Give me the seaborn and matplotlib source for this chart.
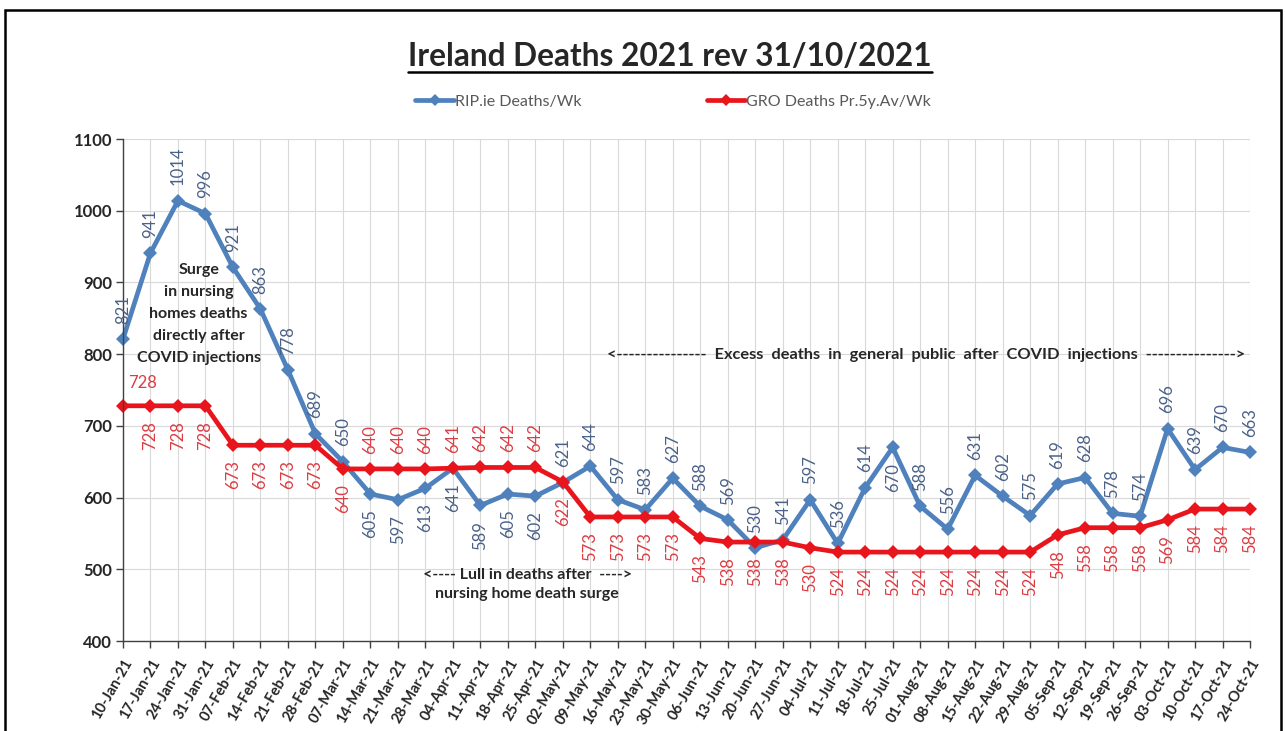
import matplotlib
matplotlib.use("Agg")
import matplotlib.pyplot as plt
from matplotlib.lines import Line2D
from matplotlib.patches import Rectangle
import pandas as pd
import seaborn as sns

WEEKS = ["10-Jan-21", "17-Jan-21", "24-Jan-21", "31-Jan-21", "07-Feb-21", "14-Feb-21",
         "21-Feb-21", "28-Feb-21", "07-Mar-21", "14-Mar-21", "21-Mar-21", "28-Mar-21",
         "04-Apr-21", "11-Apr-21", "18-Apr-21", "25-Apr-21", "02-May-21", "09-May-21",
         "16-May-21", "23-May-21", "30-May-21", "06-Jun-21", "13-Jun-21", "20-Jun-21",
         "27-Jun-21", "04-Jul-21", "11-Jul-21", "18-Jul-21", "25-Jul-21", "01-Aug-21",
         "08-Aug-21", "15-Aug-21", "22-Aug-21", "29-Aug-21", "05-Sep-21", "12-Sep-21",
         "19-Sep-21", "26-Sep-21", "03-Oct-21", "10-Oct-21", "17-Oct-21", "24-Oct-21"]

RIP_DEATHS = [821, 941, 1014, 996, 921, 863, 778, 689, 650, 605, 597, 613, 641, 589,
              605, 602, 621, 644, 597, 583, 627, 588, 569, 530, 541, 597, 536, 614,
              670, 588, 556, 631, 602, 575, 619, 628, 578, 574, 696, 639, 670, 663]

GRO_AVG = [728, 728, 728, 728, 673, 673, 673, 673, 640, 640, 640, 640, 641, 642,
           642, 642, 622, 573, 573, 573, 573, 543, 538, 538, 538, 530, 524, 524,
           524, 524, 524, 524, 524, 524, 548, 558, 558, 558, 569, 584, 584, 584]

YTICKS = [400, 500, 600, 700, 800, 900, 1000, 1100]

SURGE_LINES = ["Surge", "in nursing", "homes deaths", "directly after", "COVID injections"]

# where the data labels sit (like the hand-placed excel labels)
RIP_BELOW = {9, 10, 11, 12, 13, 14, 15, 28}
GRO_ABOVE = {9, 10, 11, 12, 13, 14, 15}

BLUE = "#4F81BD"
RED = "#E8161C"
BLUE_TXT = "#4A6188"
RED_TXT = "#DC3D43"

sns.set_theme(style="white")
plt.rcParams["font.family"] = ["Lato", "DejaVu Sans"]

df = pd.DataFrame({"i": range(len(WEEKS)), "week": WEEKS,
                   "rip": RIP_DEATHS, "gro": GRO_AVG})

fig = plt.figure(figsize=(12.85, 7.31), dpi=100)
ax = fig.add_axes([0.0957, 0.1231, 0.8771, 0.6867])

sns.lineplot(data=df, x="i", y="rip", ax=ax, color=BLUE, lw=3.4, marker="D",
             markersize=7, markeredgewidth=0, clip_on=False)
sns.lineplot(data=df, x="i", y="gro", ax=ax, color=RED, lw=3.4, marker="D",
             markersize=7, markeredgewidth=0, clip_on=False)

# data labels
OFF = 11
for i, v in enumerate(RIP_DEATHS):
    below = i in RIP_BELOW
    ax.annotate(str(v), (i, v), xytext=(0, -OFF if below else OFF), textcoords="offset points",
                rotation=90, ha="center", va="top" if below else "bottom",
                fontsize=12, color=BLUE_TXT)
for i, v in enumerate(GRO_AVG):
    if i == 0:
        ax.annotate(str(v), (i, v), xytext=(14, 11), textcoords="offset points",
                    ha="center", va="bottom", fontsize=12, color=RED_TXT)
        continue
    above = i in GRO_ABOVE
    ax.annotate(str(v), (i, v), xytext=(0, OFF if above else -OFF), textcoords="offset points",
                rotation=90, ha="center", va="bottom" if above else "top",
                fontsize=12, color=RED_TXT)

# comments on the chart
for k, line in enumerate(SURGE_LINES):
    ax.annotate(line, (2.75, 856), xytext=(0, (2 - k) * 16), textcoords="offset points",
                ha="center", va="center", fontsize=11.5, fontweight="bold")
ax.text(14.7, 479, "<---- Lull in deaths after  ---->\nnursing home death surge",
        ha="center", va="center", fontsize=11.5, fontweight="bold", linespacing=1.4)
ax.text(29.2, 799, "<---------------  Excess  deaths  in  general  public  after  COVID  injections  --------------->",
        ha="center", va="center", fontsize=11.8, fontweight="bold")

ax.set_xlim(0, len(WEEKS) - 1)
ax.set_ylim(400, 1100)
ax.set_xticks(df["i"])
ax.set_xticklabels(WEEKS, rotation=60, ha="right", rotation_mode="anchor",
                   fontsize=10.5, fontweight="bold")
ax.set_yticks(YTICKS)
ax.set_yticklabels([str(t) for t in YTICKS], fontsize=12, fontweight="bold")
ax.set_xlabel("")
ax.set_ylabel("")
ax.grid(True, color="#D9D9D9", lw=0.8)
ax.set_axisbelow(True)
ax.tick_params(axis="both", bottom=True, left=True, direction="out", length=5,
               width=1, color="#404040")
ax.tick_params(axis="x", pad=6)
ax.tick_params(axis="y", pad=3)
for side in ["top", "right"]:
    ax.spines[side].set_visible(False)
for side in ["left", "bottom"]:
    ax.spines[side].set_color("#404040")
    ax.spines[side].set_linewidth(1)

handles = [Line2D([], [], color=BLUE, lw=3.4, marker="D", markersize=6.5, markeredgewidth=0),
           Line2D([], [], color=RED, lw=3.4, marker="D", markersize=6.5, markeredgewidth=0)]
fig.legend(handles, ["RIP.ie Deaths/Wk", "GRO Deaths Pr.5y.Av/Wk"], loc="center",
           bbox_to_anchor=(0.524, 1 - 102 / 731), ncol=2, frameon=False, fontsize=11.5,
           handlelength=2.4, handletextpad=0.1, columnspacing=7.8, labelcolor="#595959")

title = fig.text(0.5215, 1 - 66 / 731, "Ireland Deaths 2021 rev 31/10/2021", ha="center",
                 va="baseline", fontsize=22.8, fontweight="bold")
fig.canvas.draw()
bb = title.get_window_extent()
inv = fig.transFigure.inverted()
(x0, y0), (x1, y1) = inv.transform([[bb.x0, bb.y0], [bb.x1, bb.y1]])
fig.add_artist(Line2D([x0, x1], [1 - 72 / 731] * 2, transform=fig.transFigure,
                      color="black", lw=1.8))

# outer frame, bottom edge runs off the picture
fig.add_artist(Rectangle((5 / 1285, -0.05), 1276 / 1285, 1 - 10 / 731 + 0.05,
                         transform=fig.transFigure, fill=False, ec="black", lw=1.8))

fig.savefig("out.png", dpi=100)
